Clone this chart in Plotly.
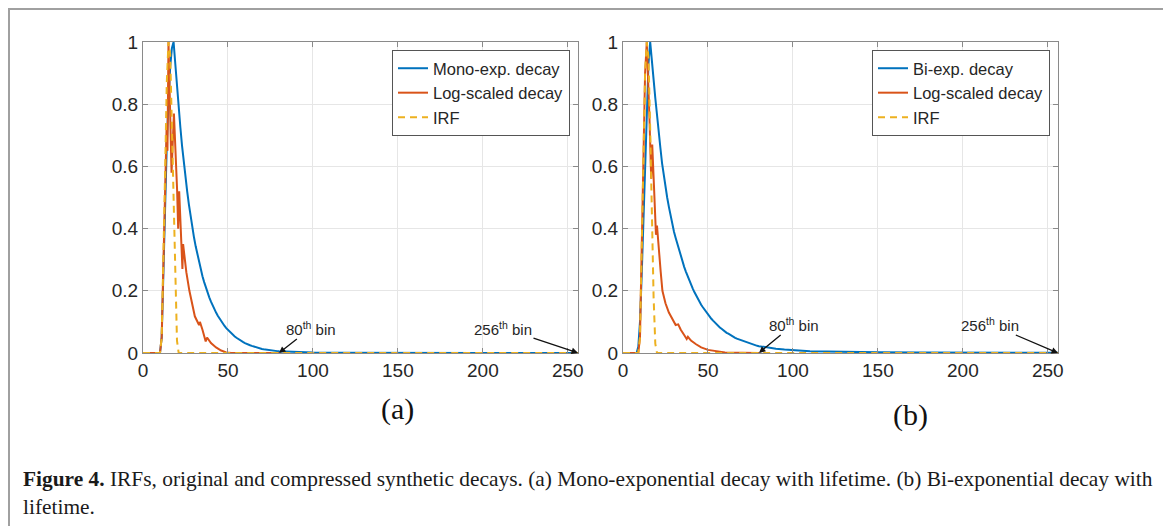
import plotly.graph_objects as go

# page body has an 8px margin: figure is sized to fit the 1171x526 window
FW, FH = 1163, 518
OFF = 8


def px(x_ref):
    return (x_ref - OFF) / FW


def py(y_ref):
    return 1 - (y_ref - OFF) / FH


# ---------------- Panel (a): mono-exponential ----------------
a_blue_x = list(range(0, 81)) + [85, 90, 95, 100, 110, 120, 140, 160, 200, 256]
a_blue_y = [0, 0, 0, 0, 0, 0, 0, 0, 0, 0, 0,
            0.05, 0.28, 0.50, 0.67, 0.81, 0.92, 0.98, 1.0, 0.93, 0.855,
            0.79, 0.725, 0.665, 0.61, 0.565, 0.52, 0.478, 0.44, 0.405, 0.372,
            0.343, 0.316, 0.291, 0.268, 0.247, 0.228, 0.21, 0.194, 0.179, 0.165,
            0.152, 0.141, 0.13, 0.12, 0.111, 0.102, 0.094, 0.087, 0.08, 0.074,
            0.068, 0.063, 0.058, 0.053, 0.049, 0.045, 0.041, 0.038, 0.035, 0.032,
            0.029, 0.027, 0.025, 0.023, 0.021, 0.019, 0.017, 0.016, 0.015, 0.013,
            0.012, 0.011, 0.010, 0.009, 0.0085, 0.008, 0.007, 0.0065, 0.006, 0.0055,
            0.004, 0.003, 0.0022, 0.0016, 0.001, 0.0007, 0.0004, 0.0003, 0.0002, 0.0001]

a_log_x = [0, 10, 11, 12, 13, 13.9, 14.4, 15.0, 16.8, 18.2, 20.1, 20.7, 21.3, 23.2, 23.6,
           25.5, 27.3, 30.5, 33.0, 33.5, 35.0, 36.9, 37.7, 40, 43, 46, 49, 52, 80]
a_log_y = [0, 0, 0.05, 0.3, 0.6, 0.73, 0.65, 1.0, 0.58, 0.77, 0.52, 0.40, 0.52, 0.27, 0.35,
           0.26, 0.20, 0.118, 0.09, 0.10, 0.075, 0.037, 0.05, 0.032, 0.018, 0.008, 0.002, 0, 0]

a_irf_x = [0, 10, 11, 12, 13, 14, 15, 16, 17, 18, 19, 20, 21, 256]
a_irf_y = [0, 0, 0.05, 0.28, 0.58, 0.87, 1.0, 0.96, 0.72, 0.45, 0.2, 0.04, 0, 0]

# ---------------- Panel (b): bi-exponential ----------------
b_blue_x = list(range(0, 81)) + [85, 90, 95, 100, 105, 110, 120, 130, 140, 150, 175, 200, 225, 256]
b_blue_y = [0, 0, 0, 0, 0, 0, 0, 0, 0,
            0.02, 0.1, 0.25, 0.42, 0.6, 0.78, 0.93, 1.0, 0.95, 0.88, 0.82,
            0.76, 0.71, 0.66, 0.61, 0.57, 0.53, 0.5, 0.47, 0.44, 0.415,
            0.39, 0.37, 0.35, 0.33, 0.31, 0.293, 0.277, 0.262, 0.247, 0.233,
            0.22, 0.208, 0.196, 0.185, 0.175, 0.165, 0.155, 0.147, 0.139, 0.131,
            0.124, 0.117, 0.11, 0.104, 0.098, 0.092, 0.087, 0.082, 0.078, 0.073,
            0.069, 0.065, 0.062, 0.058, 0.055, 0.052, 0.049, 0.046, 0.044, 0.041,
            0.039, 0.037, 0.035, 0.033, 0.031, 0.03, 0.028, 0.026, 0.025, 0.023, 0.022,
            0.017, 0.014, 0.011, 0.009, 0.007, 0.006, 0.0045, 0.0035, 0.0028, 0.0022,
            0.0015, 0.001, 0.0008, 0.0006]

b_log_x = [0, 9, 10, 11, 12, 13, 14, 14.8, 15.6, 16.6, 17.2, 18.2, 19.4, 20.0, 21.2, 21.7,
           22.2, 23.2, 25, 27, 29, 31, 32.5, 34, 36, 37.5, 38.2, 40, 43, 46, 50, 55, 60, 70, 80]
b_log_y = [0, 0, 0.05, 0.3, 0.62, 0.9, 1.0, 0.9, 0.75, 0.56, 0.67, 0.54, 0.38, 0.41, 0.31, 0.27,
           0.26, 0.2, 0.16, 0.13, 0.108, 0.09, 0.092, 0.075, 0.058, 0.045, 0.052, 0.04, 0.028,
           0.018, 0.01, 0.005, 0.002, 0.0005, 0]

b_irf_x = [0, 9, 10, 11, 12, 13, 14, 15, 16, 17, 18, 19, 20, 256]
b_irf_y = [0, 0, 0.05, 0.3, 0.62, 0.9, 1.0, 0.95, 0.72, 0.44, 0.18, 0.03, 0, 0]

x_ticks = [0, 50, 100, 150, 200, 250]
y_ticks = [0, 0.2, 0.4, 0.6, 0.8, 1]
y_tick_text = ["0", "0.2", "0.4", "0.6", "0.8", "1"]

names_a = ["Mono-exp. decay", "Log-scaled decay", "IRF"]
names_b = ["Bi-exp. decay", "Log-scaled decay", "IRF"]

BLUE, ORANGE, YELLOW = "#0072BD", "#D95319", "#EDB120"

fig = go.Figure()


def add_panel(xa, ya, leg, names, bx, by, lx, ly, ix, iy):
    fig.add_trace(go.Scatter(x=bx, y=by, mode="lines", name=names[0], xaxis=xa, yaxis=ya,
                             legend=leg, line=dict(color=BLUE, width=2)))
    fig.add_trace(go.Scatter(x=lx, y=ly, mode="lines", name=names[1], xaxis=xa, yaxis=ya,
                             legend=leg, line=dict(color=ORANGE, width=2)))
    fig.add_trace(go.Scatter(x=ix, y=iy, mode="lines", name=names[2], xaxis=xa, yaxis=ya,
                             legend=leg, line=dict(color=YELLOW, width=2, dash="7px,5px")))


add_panel("x", "y", "legend", names_a, a_blue_x, a_blue_y, a_log_x, a_log_y, a_irf_x, a_irf_y)
add_panel("x2", "y2", "legend2", names_b, b_blue_x, b_blue_y, b_log_x, b_log_y, b_irf_x, b_irf_y)

AX = "#8a8a8a"
TICKFONT = dict(family="Liberation Sans, Arial, sans-serif", size=19, color="#262626")


def xaxis_cfg(domain, anchor):
    return dict(domain=domain, anchor=anchor, range=[0, 256], tickvals=x_ticks,
                showgrid=True, gridcolor="#e6e6e6", gridwidth=1, zeroline=False,
                showline=True, linecolor=AX, linewidth=1.2, mirror="ticks",
                ticks="inside", ticklen=5, tickcolor=AX, tickfont=TICKFONT, automargin=False)


def yaxis_cfg(anchor):
    return dict(domain=[py(353), py(42)], anchor=anchor, range=[0, 1], tickvals=y_ticks,
                ticktext=y_tick_text, showgrid=True, gridcolor="#e6e6e6", gridwidth=1,
                zeroline=False, showline=True, linecolor=AX, linewidth=1.2, mirror="ticks",
                ticks="inside", ticklen=5, tickcolor=AX, tickfont=TICKFONT, automargin=False)


LEGFONT = dict(family="Liberation Sans, Arial, sans-serif", size=16.5, color="#262626")


def legend_cfg(xr):
    return dict(x=px(xr), xanchor="right", y=py(50), yanchor="top", bgcolor="white",
                bordercolor="#555555", borderwidth=1, font=LEGFONT, tracegroupgap=0,
                itemwidth=30, entrywidth=140, entrywidthmode="pixels")


ANN_FONT = dict(family="Liberation Sans, Arial, sans-serif", size=15, color="#262626")
SERIF = "Liberation Serif, Times New Roman, serif"


def bin_note(text, xref, yref, xv, ax, ay):
    return dict(x=xv, y=0, xref=xref, yref=yref, ax=ax, ay=ay, text=text, showarrow=True,
                font=ANN_FONT, arrowhead=2, arrowsize=1, arrowwidth=1.3,
                arrowcolor="#111111", standoff=0)


annotations = [
    bin_note("80<sup>th</sup> bin", "x", "y", 80, 32, -25),
    bin_note("256<sup>th</sup> bin", "x", "y", 256, -75, -25),
    bin_note("80<sup>th</sup> bin", "x2", "y2", 80, 35, -29),
    bin_note("256<sup>th</sup> bin", "x2", "y2", 256, -68, -29),
    # panel labels
    dict(x=px(397), y=py(409), xref="paper", yref="paper", text="(a)", showarrow=False,
         font=dict(family=SERIF, size=30, color="#111111"), xanchor="center", yanchor="middle"),
    dict(x=px(910), y=py(415), xref="paper", yref="paper", text="(b)", showarrow=False,
         font=dict(family=SERIF, size=30, color="#111111"), xanchor="center", yanchor="middle"),
    # caption
    dict(x=px(21), y=py(465), xref="paper", yref="paper", xanchor="left", yanchor="top",
         align="left", showarrow=False,
         text="<b>Figure 4.</b> IRFs, original and compressed synthetic decays. (a) Mono-exponential "
              "decay with lifetime. (b) Bi-exponential decay with<br>lifetime.",
         font=dict(family=SERIF, size=21.4, color="#1a1a1a")),
]

shapes = [
    dict(type="rect", xref="paper", yref="paper", x0=1 / FW, x1=px(1165), y0=-0.05, y1=1 - 1 / FH,
         line=dict(color="#a0a0a0", width=2), fillcolor="rgba(0,0,0,0)", layer="below"),
]

fig.update_layout(
    width=FW, height=FH, margin=dict(l=0, r=0, t=0, b=0, pad=0, autoexpand=False),
    paper_bgcolor="white", plot_bgcolor="white", showlegend=True,
    xaxis=xaxis_cfg([px(143), px(578)], "y"),
    yaxis=yaxis_cfg("x"),
    xaxis2=xaxis_cfg([px(623), px(1058)], "y2"),
    yaxis2=yaxis_cfg("x2"),
    legend=legend_cfg(570),
    legend2=legend_cfg(1050),
    annotations=annotations, shapes=shapes,
)

fig.write_html("out.html")
